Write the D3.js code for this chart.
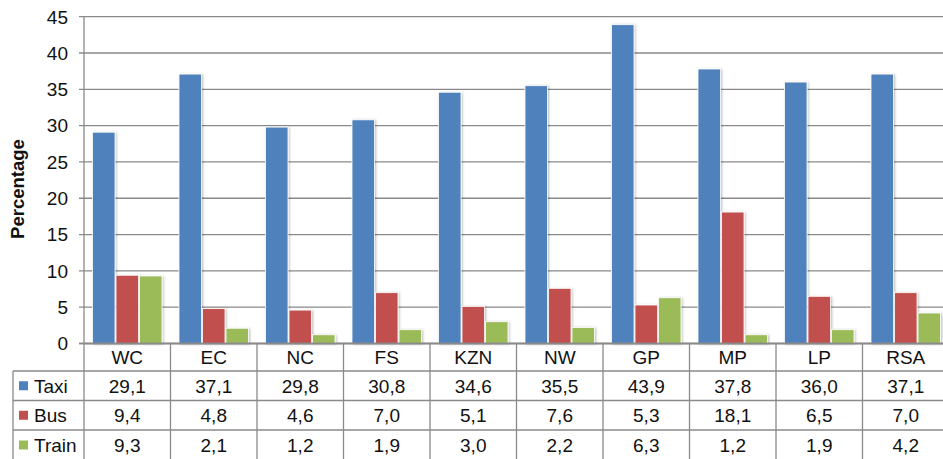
<!DOCTYPE html>
<html><head><meta charset="utf-8">
<script src="https://cdn.jsdelivr.net/npm/d3@7/dist/d3.min.js"></script>
<style>
html,body{margin:0;padding:0;background:#fff;overflow:hidden}
svg{display:block;font-family:"Liberation Sans",Arial,sans-serif}
</style></head>
<body>
<script>
const categories = ["WC","EC","NC","FS","KZN","NW","GP","MP","LP","RSA"];
const seriesNames = ["Taxi","Bus","Train"];
const taxi  = [29.1,37.1,29.8,30.8,34.6,35.5,43.9,37.8,36.0,37.1];
const bus   = [9.4,4.8,4.6,7.0,5.1,7.6,5.3,18.1,6.5,7.0];
const train = [9.3,2.1,1.2,1.9,3.0,2.2,6.3,1.2,1.9,4.2];
const yTicks = [0,5,10,15,20,25,30,35,40,45];
const colors = ["#4F81BD","#C0504D","#9BBB59"];
const seriesValues = [taxi, bus, train];

const W = 943, H = 459;
const left = 84, catW = 86.5;
const FS = 19;
const svg = d3.select("body").append("svg").attr("width", W).attr("height", H);

const defs = svg.append("defs");
const f = defs.append("filter").attr("id","sh").attr("x","-20%").attr("y","-5%").attr("width","150%").attr("height","120%");
f.append("feDropShadow").attr("dx",1.2).attr("dy",0.5).attr("stdDeviation",0.8).attr("flood-color","#000").attr("flood-opacity",0.25);

const x = d3.scaleBand().domain(categories).range([left, left + catW*categories.length]).padding(0);
const y = d3.scaleLinear().domain([0,45]).range([343.5, 16.7]);
const xs = d3.scaleBand().domain(seriesNames).range([8, catW-8]).padding(0);

const grid = "#8a8a8a";
svg.append("g").selectAll("line").data(yTicks).join("line")
  .attr("x1", left-5).attr("x2", W+10)
  .attr("y1", d=>y(d)).attr("y2", d=>y(d))
  .attr("stroke", grid).attr("stroke-width",1.3);

svg.append("g").selectAll("text").data(yTicks).join("text")
  .attr("x", 68).attr("y", d=>y(d)).attr("dy","0.36em")
  .attr("text-anchor","end").attr("font-size",FS).attr("fill","#111")
  .text(d=>d);

svg.append("line").attr("x1",left).attr("x2",left).attr("y1",y(45)).attr("y2",y(0))
  .attr("stroke",grid).attr("stroke-width",1.3);

svg.append("text").attr("transform",`translate(24,189) rotate(-90)`)
  .attr("text-anchor","middle").attr("font-size",18.5).attr("font-weight","bold").attr("fill","#111")
  .text("Percentage");

seriesNames.forEach((s,si)=>{
  svg.append("g").attr("filter","url(#sh)").selectAll("rect").data(categories).join("rect")
    .attr("x", c=>x(c)+xs(s)+0.5)
    .attr("width", xs.bandwidth()-1)
    .attr("y", (c,i)=>y(seriesValues[si][i]))
    .attr("height", (c,i)=>y(0)-y(seriesValues[si][i]))
    .attr("fill", colors[si])
    .attr("stroke","#fff").attr("stroke-width",0.8);
});

svg.append("line").attr("x1",left-5).attr("x2",W+10).attr("y1",y(0)).attr("y2",y(0))
  .attr("stroke",grid).attr("stroke-width",1.3);

const rowY = [343.5, 371, 400.5, 430, 460];
const tbl = svg.append("g");
const tStroke = "#8a8a8a";
const tableRight = left + catW*categories.length;
tbl.append("line").attr("x1",left).attr("x2",tableRight).attr("y1",rowY[0]).attr("y2",rowY[0]).attr("stroke",tStroke).attr("stroke-width",1.3);
[1,2,3,4].forEach(k=>{
  tbl.append("line").attr("x1",13).attr("x2",tableRight).attr("y1",rowY[k]).attr("y2",rowY[k]).attr("stroke",tStroke).attr("stroke-width",1.3);
});
tbl.append("line").attr("x1",13).attr("x2",13).attr("y1",rowY[1]).attr("y2",rowY[4]).attr("stroke",tStroke).attr("stroke-width",1.3);
const bounds = categories.map(c=>x(c)).concat([tableRight]);
tbl.selectAll("line.v").data(bounds).join("line").attr("class","v")
  .attr("x1",d=>d).attr("x2",d=>d).attr("y1",rowY[0]).attr("y2",rowY[4])
  .attr("stroke",tStroke).attr("stroke-width",1.3);

tbl.selectAll("text.cat").data(categories).join("text").attr("class","cat")
  .attr("x", c=>x(c)+catW/2).attr("y", (rowY[0]+rowY[1])/2).attr("dy","0.36em")
  .attr("text-anchor","middle").attr("font-size",FS).attr("fill","#111").text(c=>c);

const fmt = v => v.toFixed(1).replace(".", ",");
seriesNames.forEach((s,si)=>{
  const cy = (rowY[si+1]+rowY[si+2])/2;
  tbl.append("rect").attr("x",19).attr("y",cy-4.5).attr("width",9).attr("height",9).attr("fill",colors[si]);
  tbl.append("text").attr("x",34).attr("y",cy).attr("dy","0.36em")
    .attr("font-size",FS).attr("fill","#111").text(s);
  tbl.selectAll(null).data(categories).join("text")
    .attr("x", c=>x(c)+catW/2).attr("y", cy).attr("dy","0.36em")
    .attr("text-anchor","middle").attr("font-size",FS).attr("fill","#111")
    .text((c,i)=>fmt(seriesValues[si][i]));
});
</script>
</body></html>
